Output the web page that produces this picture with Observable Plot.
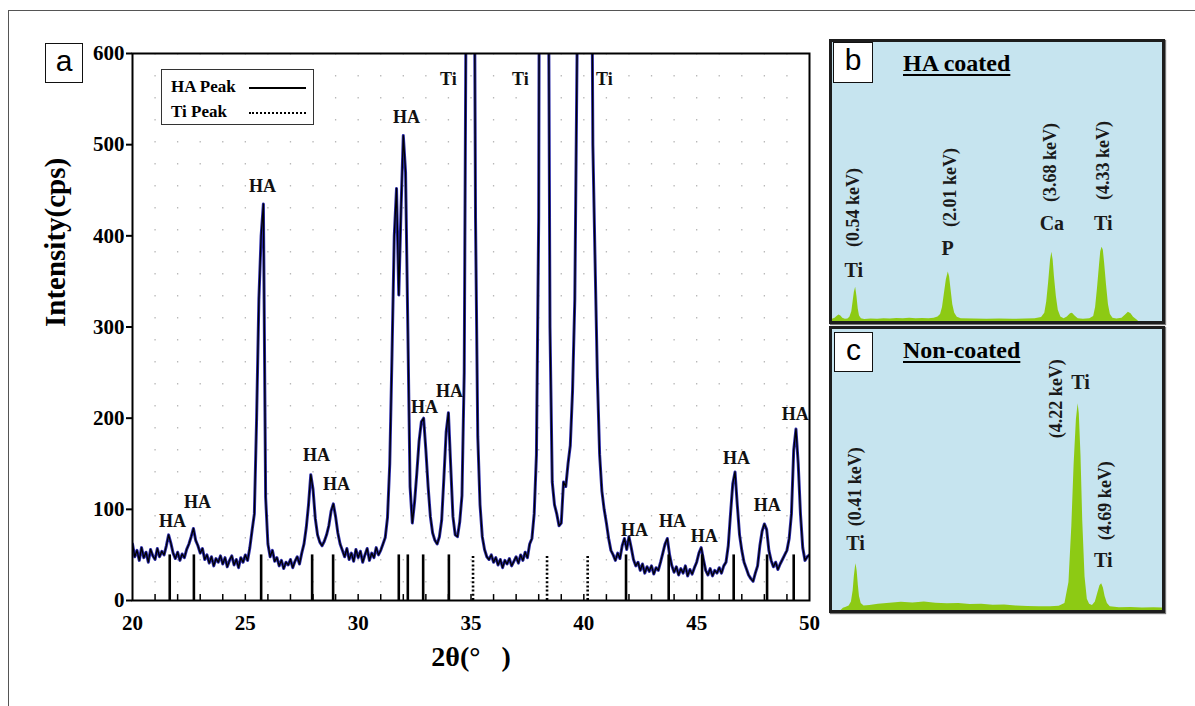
<!DOCTYPE html>
<html><head><meta charset="utf-8">
<script src="https://cdn.jsdelivr.net/npm/d3@7"></script>
<script src="https://cdn.jsdelivr.net/npm/@observablehq/plot@0.6"></script>
<style>
  body{margin:0;background:#fff;}
  #fig{position:relative;width:1195px;height:706px;overflow:hidden;background:#fff;font-family:"Liberation Serif","Times New Roman",serif;}
  .abs{position:absolute;}
  .box{position:absolute;background:#fff;border:1.5px solid #111;box-sizing:border-box;font-family:"Liberation Sans",Arial,sans-serif;font-size:30px;line-height:34px;text-align:center;}
  .panel{position:absolute;background:#c6e4ef;border:3px solid #1d1d1d;box-shadow:1px 1px 1px #777;}
  .title{position:absolute;font:bold 24px "Liberation Serif",serif;text-decoration:underline;text-decoration-thickness:2px;text-underline-offset:3px;}
  #legend{position:absolute;left:161px;top:69px;width:153px;height:56px;box-sizing:border-box;border:1.5px solid #333;background:#fff;font:bold 17px "Liberation Serif",serif;}
  .lrow{position:absolute;left:9px;height:20px;line-height:20px;}
  .lline{position:absolute;left:87px;width:57px;height:0;}
</style></head>
<body>
<div id="fig">
  <div class="abs" style="left:8px;top:10px;width:1200px;height:710px;border-left:1.5px solid #555;border-top:1.5px solid #555;"></div>
  <div id="plotA" class="abs" style="left:0;top:0;"></div>
  <div class="box" style="left:45px;top:43px;width:38px;height:40px;">a</div>
  <div id="legend">
    <div class="lrow" style="top:7px;">HA Peak</div>
    <div class="lline" style="top:17px;border-top:2px solid #000;"></div>
    <div class="lrow" style="top:32px;">Ti Peak</div>
    <div class="lline" style="top:42px;border-top:2px dotted #000;"></div>
  </div>
  <div class="panel" style="left:829px;top:39px;width:330px;height:279px;"><div id="plotB"></div></div>
  <div class="box" style="left:833px;top:42px;width:40px;height:41px;">b</div>
  <div class="title" style="left:903px;top:50px;">HA coated</div>
  <div class="panel" style="left:829px;top:326px;width:330px;height:281px;"><div id="plotC"></div></div>
  <div class="box" style="left:834px;top:332px;width:39px;height:40px;">c</div>
  <div class="title" style="left:903px;top:337px;">Non-coated</div>
</div>
<script>
// ---------- Panel a: XRD pattern ----------
const xrdStart = 20, xrdStep = 0.1;
const intensity = [
  62, 48, 55, 44, 58, 47, 53, 42, 56, 49,
  45, 57, 48, 54, 50, 60, 72, 63, 52, 46,
  53, 44, 51, 47, 56, 62, 70, 79, 66, 60,
  52, 57, 45, 50, 41, 48, 38, 46, 42, 49,
  40, 47, 37, 44, 49, 39, 45, 36, 47, 42,
  50, 44, 58, 77, 95, 200, 330, 400, 435, 113,
  62, 48, 55, 43, 47, 38, 44, 35, 42, 39,
  45, 36, 43, 48, 40, 52, 62, 80, 105, 138,
  122, 90, 72, 64, 60, 65, 72, 82, 98, 106,
  92, 74, 62, 55, 48, 57, 45, 52, 43, 56,
  47, 54, 42, 50, 57, 44, 52, 47, 58, 50,
  55, 62, 69, 91, 150, 270, 400, 452, 335, 430,
  510, 470, 300, 125, 85, 108, 140, 175, 196, 200,
  165, 125, 92, 74, 66, 62, 70, 88, 135, 185,
  206, 148, 92, 72, 70, 86, 115, 250, 750, 1600,
  2000, 1000, 420, 180, 105, 70, 56, 48, 45, 50,
  42, 47, 39, 45, 36, 44, 40, 46, 38, 43,
  48, 41, 50, 44, 53, 47, 62, 68, 95, 160,
  420, 1500, 2500, 2000, 900, 300, 130, 105, 95, 82,
  85, 130, 125, 150, 170, 230, 330, 600, 1200, 1900,
  2400, 2300, 1700, 950, 500, 370, 245, 160, 120, 100,
  85, 68, 55, 50, 44, 52, 46, 60, 68, 56,
  70, 58, 45, 38, 42, 33, 40, 30, 37, 32,
  38, 29, 36, 33, 42, 52, 62, 68, 50, 38,
  31, 37, 28, 35, 30, 38, 27, 34, 29, 36,
  42, 52, 58, 45, 33, 28, 35, 27, 33, 30,
  36, 30, 38, 42, 60, 95, 128, 141, 105, 72,
  55, 42, 35, 28, 24, 21, 30, 38, 60, 76,
  84, 78, 55, 44, 37, 42, 34, 40, 45, 50,
  55, 68, 95, 165, 188, 150, 95, 58, 44, 48,
  50
];
const haPeaks = [21.65, 22.72, 25.70, 27.96, 28.89, 31.80, 32.20, 32.88, 34.02, 41.87, 43.76, 45.24, 46.64, 48.12, 49.30];
const tiPeaks = [35.09, 38.37, 40.17];
const markerHeight = 50;
const peakLabels = [
  {t: "HA", x: 21.77, y: 87}, {t: "HA", x: 22.88, y: 108}, {t: "HA", x: 25.76, y: 454},
  {t: "HA", x: 28.15, y: 159}, {t: "HA", x: 29.04, y: 128}, {t: "HA", x: 32.14, y: 530},
  {t: "HA", x: 32.94, y: 212}, {t: "HA", x: 34.05, y: 229},
  {t: "Ti", x: 34.0, y: 572}, {t: "Ti", x: 37.19, y: 572}, {t: "Ti", x: 40.91, y: 572},
  {t: "HA", x: 42.24, y: 77}, {t: "HA", x: 43.93, y: 87}, {t: "HA", x: 45.34, y: 70},
  {t: "HA", x: 46.76, y: 156}, {t: "HA", x: 48.13, y: 104}, {t: "HA", x: 49.37, y: 204}
];
const xTicks = [20, 25, 30, 35, 40, 45, 50];
const xMinorTicks = d3.range(21, 50, 1);
const yTicks = [0, 100, 200, 300, 400, 500, 600];
const xTickLength = 6.5;
const xLabel = "2θ(°\u00a0\u00a0\u00a0)";
const yLabel = "Intensity(cps)";

const xrd = intensity.map((v, i) => ({x: +(xrdStart + i * xrdStep).toFixed(2), y: v}));
const serif = "Liberation Serif, Times New Roman, serif";

const plotA = Plot.plot({
  width: 830, height: 700,
  marginLeft: 132, marginRight: 21, marginTop: 53, marginBottom: 100,
  x: {domain: [20, 50]},
  y: {domain: [0, 600]},
  style: {fontFamily: serif, background: "transparent", overflow: "visible", color: "#000"},
  marks: [
    Plot.ruleX(xMinorTicks, {x: d => d, stroke: "#b8b8b8", strokeWidth: 1.3, strokeDasharray: "1.5,20.5"}),
    Plot.line(xrd, {x: "x", y: "y", clip: true, stroke: "#2a2aa8", strokeWidth: 3}),
    Plot.line(xrd, {x: "x", y: "y", clip: true, stroke: "#000", strokeWidth: 1.3}),
    Plot.ruleX(haPeaks, {x: d => d, y1: 0, y2: markerHeight, stroke: "#000", strokeWidth: 2.6}),
    Plot.ruleX(tiPeaks, {x: d => d, y1: 0, y2: markerHeight, stroke: "#000", strokeWidth: 2.6, strokeDasharray: "2,2.2"}),
    Plot.ruleX(xMinorTicks, {x: d => d, y1: 0, y2: xTickLength, stroke: "#000", strokeWidth: 1.5}),
    Plot.text(peakLabels, {x: "x", y: "y", text: "t", fontSize: 18, fontWeight: "bold", fill: "#111"}),
    Plot.frame({stroke: "#000", strokeWidth: 2}),
    Plot.axisY(yTicks, {tickSize: 6, tickPadding: 2, fontSize: 21, fontWeight: "bold", strokeWidth: 2, label: null}),
    Plot.axisX(xTicks, {tickSize: 0, tickPadding: 15, fontSize: 21, fontWeight: "bold", label: null}),
    Plot.text([yLabel], {text: d => d, frameAnchor: "left", dx: -77, rotate: -90, fontSize: 29, fontWeight: "bold"}),
    Plot.text([xLabel], {text: d => d, frameAnchor: "bottom", dy: 65, fontSize: 28, fontWeight: "bold"})
  ]
});
document.getElementById("plotA").appendChild(plotA);

// ---------- Panel b: EDS, HA coated ----------
const spectrumB = [
  [0.20,0.8],[0.24,1.2],[0.27,1.8],[0.30,2.3],[0.33,2.0],[0.36,1.2],[0.40,0.8],[0.44,0.9],[0.47,1.5],
  [0.50,3.5],[0.52,7],[0.54,10.5],[0.56,12.3],[0.58,9],[0.60,4.5],[0.62,2],[0.65,1.0],[0.70,0.7],
  [0.80,0.9],[0.90,0.8],[1.00,1.0],[1.10,0.9],[1.20,1.1],[1.30,1.0],[1.40,1.2],[1.50,1.0],[1.60,1.1],
  [1.70,1.0],[1.78,1.2],[1.84,1.6],[1.88,2.5],[1.91,5],[1.94,10],[1.97,15],[2.00,17.7],[2.02,16],
  [2.04,12],[2.07,6],[2.10,3],[2.14,1.5],[2.20,1.0],[2.40,0.9],[2.60,0.8],[2.80,0.9],[3.00,0.8],
  [3.20,0.9],[3.35,1.0],[3.45,1.4],[3.50,3],[3.53,7],[3.56,14],[3.59,22],[3.61,24.8],[3.63,22],
  [3.65,16],[3.68,9],[3.71,4],[3.75,1.6],[3.80,1.0],[3.85,1.6],[3.90,2.8],[3.93,3.0],[3.97,2.0],
  [4.02,1.0],[4.10,0.8],[4.20,1.0],[4.26,1.8],[4.29,5],[4.32,12],[4.35,20],[4.37,25],[4.39,26.6],
  [4.41,25.5],[4.43,21],[4.46,13],[4.49,6],[4.52,2.5],[4.56,1.2],[4.62,0.9],[4.70,1.2],[4.76,2.4],
  [4.80,3.3],[4.84,2.8],[4.88,1.5],[4.93,0.6],[4.96,0],[5.33,0]
];
const labelsB = [
  {t: "(0.54 keV)", x: 0.53, y: 40.9}, {t: "(2.01 keV)", x: 2.03, y: 48},
  {t: "(3.68 keV)", x: 3.59, y: 57}, {t: "(4.33 keV)", x: 4.41, y: 57.7}
];
const elementsB = [
  {t: "Ti", x: 0.53, y: 18.3}, {t: "P", x: 1.99, y: 26.2},
  {t: "Ca", x: 3.61, y: 35.1}, {t: "Ti", x: 4.41, y: 35.1}
];

// ---------- Panel c: EDS, non-coated ----------
const spectrumC = [
  [0.15,0],[0.19,0.8],[0.24,1.2],[0.29,1.6],[0.33,3],[0.36,7],[0.38,12],[0.40,15.5],[0.41,16.6],
  [0.43,14],[0.45,9],[0.47,5],[0.50,2.5],[0.55,1.6],[0.65,1.8],[0.80,2.2],[1.00,2.6],[1.20,2.9],
  [1.40,2.7],[1.60,3.0],[1.80,2.6],[2.00,2.4],[2.20,2.5],[2.40,2.1],[2.60,2.2],[2.80,1.9],[3.00,2.0],
  [3.20,1.6],[3.40,1.4],[3.60,1.3],[3.80,1.3],[3.95,1.5],[4.05,2.5],[4.12,10],[4.17,30],[4.21,52],
  [4.25,68],[4.28,73.6],[4.30,70],[4.33,55],[4.36,32],[4.40,12],[4.44,4],[4.48,2.2],[4.53,1.8],
  [4.58,3],[4.62,6],[4.66,8.8],[4.69,9.5],[4.72,8],[4.75,5],[4.79,2.5],[4.84,1.3],[5.00,1.0],
  [5.20,1.1],[5.40,0.9],[5.60,1.0],[5.75,0.9]
];
const labelsC = [
  {t: "(0.41 keV)", x: 0.40, y: 44}, {t: "(4.22 keV)", x: 3.89, y: 75.4}, {t: "(4.69 keV)", x: 4.76, y: 39.1}
];
const elementsC = [
  {t: "Ti", x: 0.40, y: 23.8}, {t: "Ti", x: 4.32, y: 81.1}, {t: "Ti", x: 4.72, y: 17.8}
];

const green = "#8dca14";
function eds(spec, labels, elements, xDomain, h) {
  return Plot.plot({
    width: 330, height: h, margin: 0,
    x: {domain: xDomain, axis: null},
    y: {domain: [0, 100], axis: null},
    style: {fontFamily: serif, background: "transparent", overflow: "visible", color: "#111"},
    marks: [
      Plot.areaY(spec, {x: d => d[0], y: d => d[1], fill: green}),
      Plot.text(labels, {x: "x", y: "y", text: "t", rotate: -90, fontSize: 18, fontWeight: "bold", fill: "#1a1a1a"}),
      Plot.text(elements, {x: "x", y: "y", text: "t", fontSize: 20, fontWeight: "bold", fill: "#1a1a1a"})
    ]
  });
}
document.getElementById("plotB").appendChild(eds(spectrumB, labelsB, elementsB, [0.2, 5.33], 279));
document.getElementById("plotC").appendChild(eds(spectrumC, labelsC, elementsC, [0, 5.75], 281));
</script>
</body></html>
